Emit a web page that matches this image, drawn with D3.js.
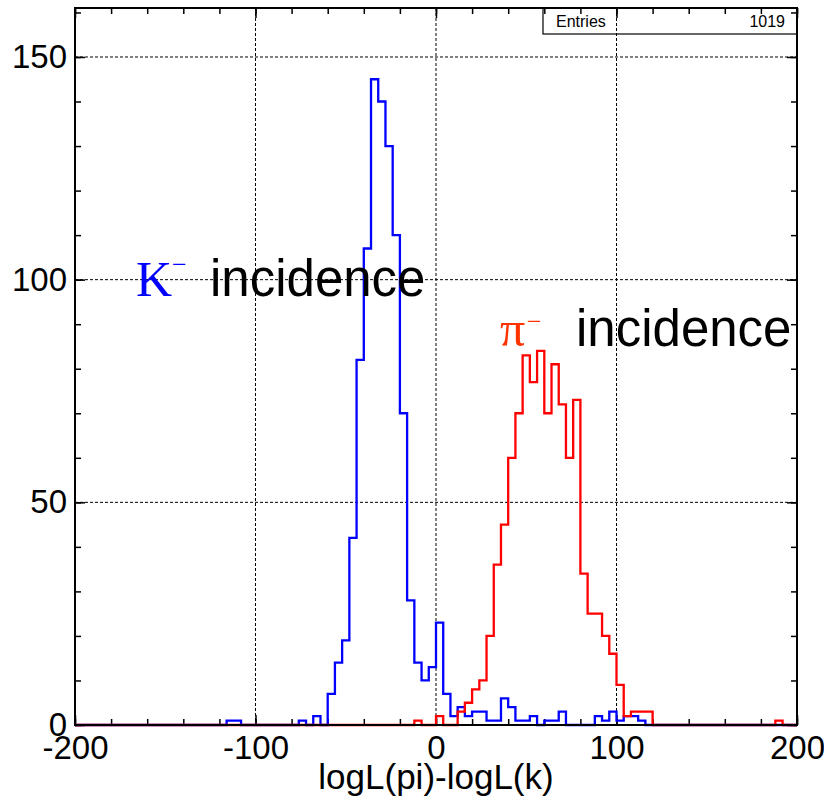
<!DOCTYPE html>
<html lang="en">
<head>
<meta charset="UTF-8">
<title>logL(pi)-logL(k)</title>
<style>
    body { margin:0; background:#fff; }
    .axis path { display:none; }
    .axis line { stroke:#000; stroke-width:1.5; }
    .axis text { font-family:"Liberation Sans", Arial, sans-serif; font-size:33px; fill:#000; }
    .grid line { stroke:#000; stroke-width:1; stroke-dasharray:3,2; }
</style>
</head>
<body>
<script src="https://cdn.jsdelivr.net/npm/d3@7/dist/d3.min.js"></script>
<script>
    // 100 bins of width 4 from -200 to 200
    var xMin = -200, xMax = 200, binWidth = 4;

    // K- incidence (blue), counts per bin
    var kaonCounts = [
        0,0,0,0,0,0,0,0,0,0,
        0,0,0,0,0,0,0,0,0,0,
        0,1,1,0,0,0,0,0,0,0,
        0,1,0,2,0,7,14,19,42,82,
        107,145,140,130,110,70,28,14,10,13,
        23,7,2,4,2,3,3,1,1,6,
        4,1,1,2,0,1,1,3,0,0,
        0,0,2,1,3,1,2,2,1,0,
        0,0,0,0,0,0,0,0,0,0,
        0,0,0,0,0,0,0,0,0,0
    ];
    // pi- incidence (red), counts per bin
    var pionCounts = [
        0,0,0,0,0,0,0,0,0,0,
        0,0,0,0,0,0,0,0,0,0,
        0,0,0,0,0,0,0,0,0,0,
        0,0,0,0,0,0,0,0,0,0,
        0,0,0,0,0,0,0,1,0,0,
        2,0,0,3,5,8,10,20,36,45,
        60,70,83,77,84,70,81,72,60,73,
        34,25,25,20,16,9,2,3,3,3,
        0,0,0,0,0,0,0,0,0,0,
        0,0,0,0,0,0,0,1,0,0
    ];

    var xTickLabels = [-200,-100,0,100,200];
    var yTickLabels = [0,50,100,150];
    var entries = 1019;

    var w = 824, h = 796;
    var padL = 75, padR = 797, padT = 8, padB = 725;

    var xScale = d3.scaleLinear().domain([xMin,xMax]).range([padL,padR]);
    var yScale = d3.scaleLinear().domain([0,161]).range([padB,padT]);

    var svg = d3.select("body").append("svg").attr("width",w).attr("height",h);

    // grid
    var grid = svg.append("g").attr("class","grid");
    grid.selectAll(".gx").data([-100,0,100]).enter().append("line")
        .attr("x1",function (d) { return xScale(d); })
        .attr("x2",function (d) { return xScale(d); })
        .attr("y1",padT).attr("y2",padB);
    grid.selectAll(".gy").data([50,100,150]).enter().append("line")
        .attr("y1",function (d) { return yScale(d); })
        .attr("y2",function (d) { return yScale(d); })
        .attr("x1",padL).attr("x2",padR);

    var minorX = d3.range(xMin,xMax+1,20);
    var minorY = d3.range(0,161,10);

    // bottom axis with labels, ticks pointing inside
    svg.append("g").attr("class","axis").attr("transform","translate(0,"+padB+")")
        .call(d3.axisBottom(xScale).tickValues(xTickLabels).tickSizeInner(-10).tickSizeOuter(0).tickPadding(11).tickFormat(String));
    svg.append("g").attr("class","axis").attr("transform","translate(0,"+padB+")")
        .call(d3.axisBottom(xScale).tickValues(minorX).tickSizeInner(-6).tickSizeOuter(0).tickFormat(""));
    // top axis, ticks only
    svg.append("g").attr("class","axis").attr("transform","translate(0,"+padT+")")
        .call(d3.axisTop(xScale).tickValues(minorX).tickSizeInner(-6).tickSizeOuter(0).tickFormat(""));
    svg.append("g").attr("class","axis").attr("transform","translate(0,"+padT+")")
        .call(d3.axisTop(xScale).tickValues(xTickLabels).tickSizeInner(-10).tickSizeOuter(0).tickFormat(""));

    // left axis with labels
    svg.append("g").attr("class","axis").attr("transform","translate("+padL+",0)")
        .call(d3.axisLeft(yScale).tickValues(yTickLabels).tickSizeInner(-10).tickSizeOuter(0).tickPadding(8).tickFormat(String));
    svg.append("g").attr("class","axis").attr("transform","translate("+padL+",0)")
        .call(d3.axisLeft(yScale).tickValues(minorY).tickSizeInner(-6).tickSizeOuter(0).tickFormat(""));
    // right axis ticks
    svg.append("g").attr("class","axis").attr("transform","translate("+padR+",0)")
        .call(d3.axisRight(yScale).tickValues(minorY).tickSizeInner(-6).tickSizeOuter(0).tickFormat(""));
    svg.append("g").attr("class","axis").attr("transform","translate("+padR+",0)")
        .call(d3.axisRight(yScale).tickValues(yTickLabels).tickSizeInner(-10).tickSizeOuter(0).tickFormat(""));

    // histograms as step outlines
    function histPoints(counts) {
        var pts = counts.map(function (c,i) { return [xMin + i*binWidth, c]; });
        pts.push([xMax, counts[counts.length-1]]);
        return pts;
    }
    var stepLine = d3.line()
        .x(function (d) { return xScale(d[0]); })
        .y(function (d) { return yScale(d[1]); })
        .curve(d3.curveStepAfter);

    svg.append("path").datum(histPoints(kaonCounts))
        .attr("d",stepLine).attr("fill","none").attr("stroke","#0000ff").attr("stroke-width",2.3);
    svg.append("path").datum(histPoints(pionCounts))
        .attr("d",stepLine).attr("fill","none").attr("stroke","#ff0000").attr("stroke-width",2.3);

    // frame
    svg.append("rect").attr("x",padL).attr("y",padT).attr("width",padR-padL).attr("height",padB-padT)
        .attr("fill","none").attr("stroke","#000").attr("stroke-width",2);

    // stats box
    svg.append("rect").attr("x",543).attr("y",padT).attr("width",padR-543).attr("height",26)
        .attr("fill","none").attr("stroke","#000").attr("stroke-width",1.2);
    svg.append("text").attr("x",556).attr("y",27).text("Entries")
        .attr("font-family","Liberation Sans, Arial, sans-serif").attr("font-size","16px");
    svg.append("text").attr("x",785).attr("y",27).attr("text-anchor","end").text(entries)
        .attr("font-family","Liberation Sans, Arial, sans-serif").attr("font-size","16px");

    // axis title
    svg.append("text").attr("x",(padL+padR)/2).attr("y",789).attr("text-anchor","middle")
        .attr("font-family","Liberation Sans, Arial, sans-serif").attr("font-size","35px")
        .text("logL(pi)-logL(k)");

    // labels
    svg.append("text").attr("x",136).attr("y",296).attr("fill","#0000ff")
        .attr("font-family","Liberation Serif, Times New Roman, serif").attr("font-size","50px").text("K");
    svg.append("text").attr("x",172).attr("y",273).attr("fill","#0000ff")
        .attr("font-family","Liberation Serif, Times New Roman, serif").attr("font-size","26px").text("\u2212");
    svg.append("text").attr("x",210).attr("y",296)
        .attr("font-family","Liberation Sans, Arial, sans-serif").attr("font-size","51px").text("incidence");

    svg.append("text").attr("x",500).attr("y",346).attr("fill","#ff3300")
        .attr("font-family","Liberation Serif, Times New Roman, serif").attr("font-size","50px").text("\u03c0");
    svg.append("text").attr("x",527).attr("y",330).attr("fill","#ff3300")
        .attr("font-family","Liberation Serif, Times New Roman, serif").attr("font-size","26px").text("\u2212");
    svg.append("text").attr("x",576).attr("y",346)
        .attr("font-family","Liberation Sans, Arial, sans-serif").attr("font-size","51px").text("incidence");
</script>
</body>
</html>
